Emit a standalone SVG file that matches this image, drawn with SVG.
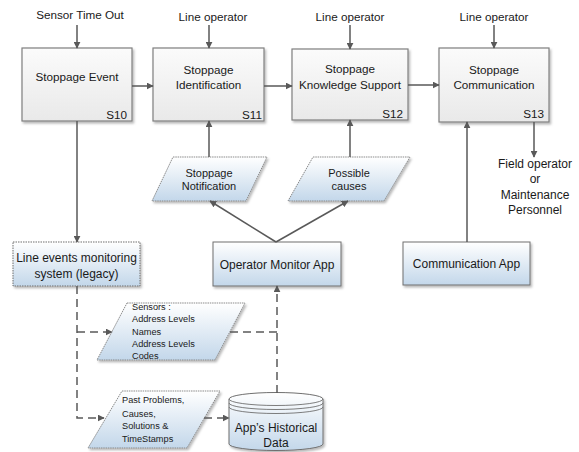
<svg xmlns="http://www.w3.org/2000/svg" width="579" height="452" viewBox="0 0 579 452">
  <defs>
    <linearGradient id="gGray" x1="0" y1="0" x2="0" y2="1">
      <stop offset="0" stop-color="#fbfbfb"/>
      <stop offset="1" stop-color="#e9e9e9"/>
    </linearGradient>
    <linearGradient id="gBlue" x1="0" y1="0" x2="0" y2="1">
      <stop offset="0" stop-color="#ffffff"/>
      <stop offset="1" stop-color="#c3d7ea"/>
    </linearGradient>
    <filter id="shadow" x="-10%" y="-10%" width="130%" height="140%">
      <feDropShadow dx="1.5" dy="2" stdDeviation="1.2" flood-color="#000" flood-opacity="0.28"/>
    </filter>
    <marker id="arrow" viewBox="0 0 10 10" refX="9" refY="5" markerWidth="7" markerHeight="7" markerUnits="userSpaceOnUse" orient="auto">
      <path d="M0,0 L10,5 L0,10 z" fill="#595959"/>
    </marker>
  </defs>
  <style>
    text { font-family: "Liberation Sans", Arial, sans-serif; fill: #1a1a1a; }
    .step { fill: url(#gGray); stroke: #7f7f7f; stroke-width: 1.2; filter: url(#shadow); }
    .app { fill: url(#gBlue); stroke: #6f6f6f; stroke-width: 1; filter: url(#shadow); }
    .legacy { fill: url(#gBlue); stroke: #6f6f6f; stroke-width: 1; stroke-dasharray: 1.5 1; filter: url(#shadow); }
    .data { fill: url(#gBlue); stroke: #7f7f7f; stroke-width: 0.9; stroke-dasharray: 1.5 0.8; filter: url(#shadow); }
    .db { fill: url(#gBlue); stroke: #6f6f6f; stroke-width: 1; }
    .ring { fill: none; stroke: #6f6f6f; stroke-width: 0.9; }
    .t12 { font-size: 11.7px; text-anchor: middle; }
    .tb { font-size: 12px; text-anchor: middle; }
    .tp { font-size: 11px; text-anchor: middle; }
    .ts { font-size: 9.2px; }
    .code { font-size: 11.7px; text-anchor: end; }
    .wire { fill: none; stroke: #595959; stroke-width: 1.5; }
    .dash { fill: none; stroke: #595959; stroke-width: 1.5; stroke-dasharray: 8 5; }
  </style>

  <!-- Process steps -->
  <g id="s10">
    <rect class="step" x="22" y="48" width="110" height="73"/>
    <text class="t12" x="77" y="81">Stoppage Event</text>
    <text class="code" x="127" y="119">S10</text>
  </g>
  <g id="s11">
    <rect class="step" x="153" y="48" width="111" height="73"/>
    <text class="t12" x="208.5" y="74">Stoppage</text>
    <text class="t12" x="208.5" y="89">Identification</text>
    <text class="code" x="262" y="119">S11</text>
  </g>
  <g id="s12">
    <rect class="step" x="292" y="49" width="116" height="71"/>
    <text class="t12" x="350" y="73">Stoppage</text>
    <text class="t12" x="350" y="89">Knowledge Support</text>
    <text class="code" x="403" y="118">S12</text>
  </g>
  <g id="s13">
    <rect class="step" x="439" y="48" width="110" height="74"/>
    <text class="t12" x="494" y="74">Stoppage</text>
    <text class="t12" x="494" y="89">Communication</text>
    <text class="code" x="544" y="118">S13</text>
  </g>

  <!-- External inputs / outputs -->
  <g id="in-sensor">
    <text class="t12" x="80" y="19">Sensor Time Out</text>
  </g>
  <g id="in-op11">
    <text class="t12" x="213" y="21">Line operator</text>
  </g>
  <g id="in-op12">
    <text class="t12" x="350" y="21">Line operator</text>
  </g>
  <g id="in-op13">
    <text class="t12" x="494" y="21">Line operator</text>
  </g>
  <g id="out-field">
    <text class="tb" x="535" y="168">Field operator</text>
    <text class="tb" x="535" y="183">or</text>
    <text class="tb" x="535" y="199">Maintenance</text>
    <text class="tb" x="535" y="214">Personnel</text>
  </g>

  <!-- Data items -->
  <g id="notification">
    <polygon class="data" points="173,157 267,157 246,201 152,201"/>
    <text class="tp" x="209" y="177">Stoppage</text>
    <text class="tp" x="209" y="190">Notification</text>
  </g>
  <g id="causes">
    <polygon class="data" points="313,157 410,157 384,201 288,201"/>
    <text class="tp" x="349" y="177">Possible</text>
    <text class="tp" x="349" y="190">causes</text>
  </g>
  <g id="sensors">
    <polygon class="data" points="127,303 245,303 215,360 97,360"/>
    <text class="ts" x="132" y="310">Sensors :</text>
    <text class="ts" x="132" y="322">Address Levels</text>
    <text class="ts" x="132" y="335">Names</text>
    <text class="ts" x="132" y="347">Address Levels</text>
    <text class="ts" x="132" y="359">Codes</text>
  </g>
  <g id="past">
    <polygon class="data" points="122,391 220,391 187,448 88,448"/>
    <text class="ts" x="122" y="403">Past Problems,</text>
    <text class="ts" x="122" y="417">Causes,</text>
    <text class="ts" x="122" y="429">Solutions &amp;</text>
    <text class="ts" x="122" y="442">TimeStamps</text>
  </g>

  <!-- Applications -->
  <g id="legacy">
    <rect class="legacy" x="13" y="242" width="127" height="44"/>
    <text class="tb" x="76.5" y="262">Line events monitoring</text>
    <text class="tb" x="76.5" y="278">system (legacy)</text>
  </g>
  <g id="opmon">
    <rect class="app" x="213" y="242" width="128" height="44"/>
    <text class="tb" x="277" y="269">Operator Monitor App</text>
  </g>
  <g id="commapp">
    <rect class="app" x="403" y="242" width="127" height="43"/>
    <text class="tb" x="466.5" y="268">Communication App</text>
  </g>
  <g id="history">
    <path class="db" d="M229,399 A47,6.5 0 0 1 323,399 L323,444 A47,6.5 0 0 1 229,444 Z" filter="url(#shadow)"/>
    <path class="ring" d="M229,399 A47,6.5 0 0 0 323,399"/>
    <path class="ring" d="M229,403 A47,6.5 0 0 0 323,403"/>
    <path class="ring" d="M229,407 A47,6.5 0 0 0 323,407"/>
    <text class="tb" x="276" y="432">App’s Historical</text>
    <text class="tb" x="276" y="447">Data</text>
  </g>

  <!-- Connectors -->
  <g id="connectors">
    <line class="wire" x1="77" y1="25" x2="77" y2="48" marker-end="url(#arrow)"/>
    <line class="wire" x1="209" y1="25" x2="209" y2="48" marker-end="url(#arrow)"/>
    <line class="wire" x1="350" y1="25" x2="350" y2="49" marker-end="url(#arrow)"/>
    <line class="wire" x1="494" y1="25" x2="494" y2="48" marker-end="url(#arrow)"/>
    <line class="wire" x1="132" y1="86" x2="153" y2="86" marker-end="url(#arrow)"/>
    <line class="wire" x1="264" y1="86" x2="292" y2="86" marker-end="url(#arrow)"/>
    <line class="wire" x1="408" y1="85" x2="439" y2="85" marker-end="url(#arrow)"/>
    <line class="wire" x1="77" y1="121" x2="77" y2="242" marker-end="url(#arrow)"/>
    <line class="wire" x1="209" y1="157" x2="209" y2="121" marker-end="url(#arrow)"/>
    <line class="wire" x1="350" y1="157" x2="350" y2="120" marker-end="url(#arrow)"/>
    <line class="wire" x1="276" y1="242" x2="210" y2="201" marker-end="url(#arrow)"/>
    <line class="wire" x1="276" y1="242" x2="348" y2="201" marker-end="url(#arrow)"/>
    <line class="wire" x1="467" y1="242" x2="467" y2="122" marker-end="url(#arrow)"/>
    <line class="wire" x1="534" y1="122" x2="534" y2="157" marker-end="url(#arrow)"/>
    <polyline class="dash" points="77,286 77,418 104,418" marker-end="url(#arrow)"/>
    <line class="dash" x1="77" y1="332" x2="112" y2="332" marker-end="url(#arrow)"/>
    <line class="dash" x1="230" y1="332" x2="277" y2="332"/>
    <line class="dash" x1="277" y1="393" x2="277" y2="286" marker-end="url(#arrow)"/>
    <line class="dash" x1="204" y1="418" x2="229" y2="418" marker-end="url(#arrow)"/>
  </g>
</svg>
